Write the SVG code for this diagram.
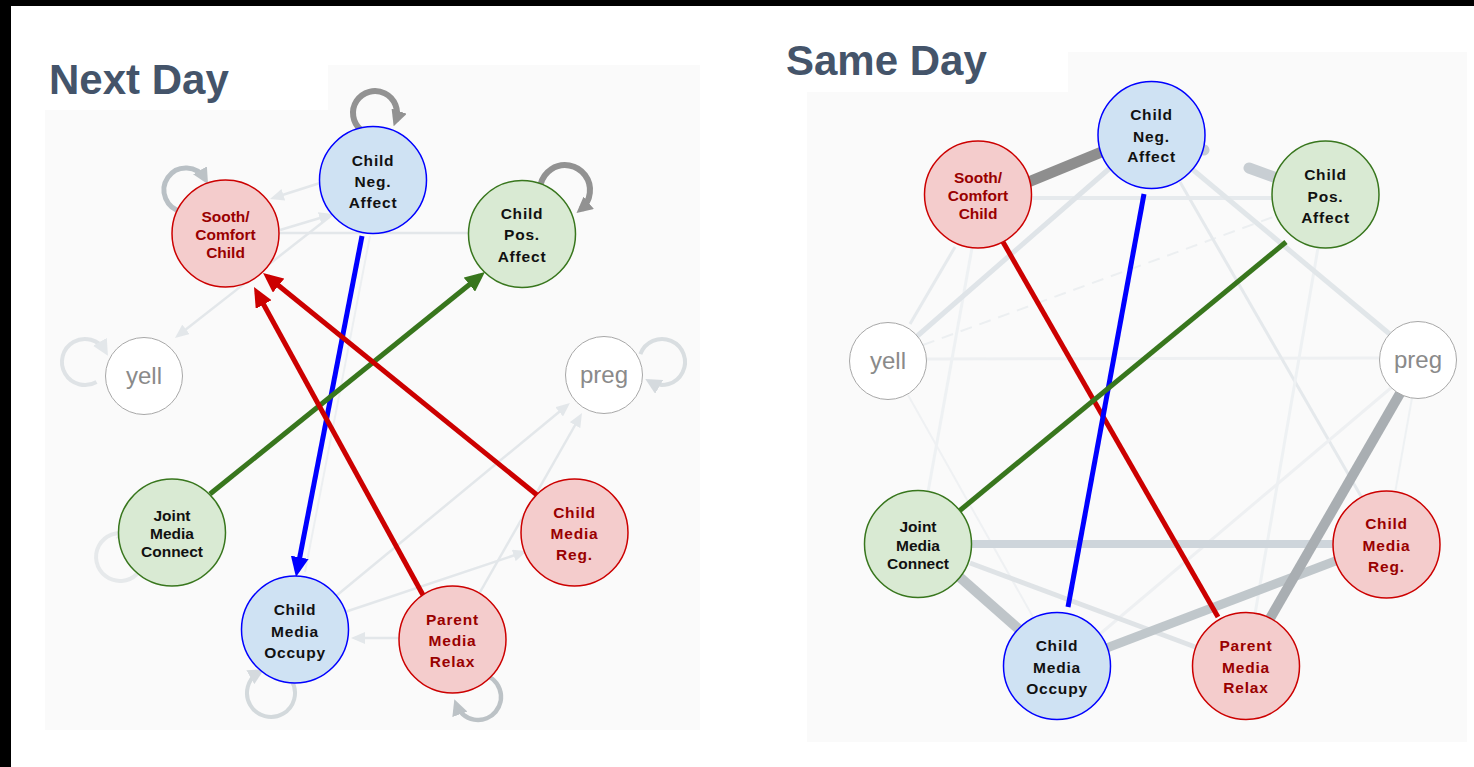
<svg xmlns="http://www.w3.org/2000/svg" width="1474" height="767" viewBox="0 0 1474 767">
<defs>
<style>
.title{font-family:"Liberation Sans",Arial,sans-serif;font-weight:bold;font-size:42px;fill:#44546a}
.lbl{font-family:"Liberation Sans",Arial,sans-serif;font-weight:bold;font-size:15.5px;text-anchor:middle;letter-spacing:0.8px;fill:#111}
.tight{letter-spacing:0}
.rt{fill:#990000}
.gl{font-family:"Liberation Sans",Arial,sans-serif;font-size:24px;text-anchor:middle;fill:#8a8a8a}
.nr{fill:#f4cccc;stroke:#cc0000;stroke-width:1.5}
.nb{fill:#cfe2f3;stroke:#0000ff;stroke-width:1.5}
.ng{fill:#d9ead3;stroke:#38761d;stroke-width:1.5}
.nw{fill:#ffffff;stroke:#a8a8a8;stroke-width:1}
.e{fill:none;stroke-linecap:butt}
.faint{stroke:#e3e7ea;stroke-width:2.5;fill:none}
.loop{fill:none}
</style>
<marker id="mBlue" markerUnits="userSpaceOnUse" markerWidth="20" markerHeight="18" refX="14" refY="9" orient="auto"><path d="M0,0 L20,9 L0,18 Z" fill="#0000ff"/></marker>
<marker id="mGreen" markerUnits="userSpaceOnUse" markerWidth="20" markerHeight="18" refX="14" refY="9" orient="auto"><path d="M0,0 L20,9 L0,18 Z" fill="#38761d"/></marker>
<marker id="mRed" markerUnits="userSpaceOnUse" markerWidth="20" markerHeight="18" refX="14" refY="9" orient="auto"><path d="M0,0 L20,9 L0,18 Z" fill="#cc0000"/></marker>
<marker id="mFaint" markerUnits="userSpaceOnUse" markerWidth="14" markerHeight="12" refX="10" refY="6" orient="auto"><path d="M0,0 L14,6 L0,12 Z" fill="#e3e7ea"/></marker>
<marker id="mL1" markerUnits="userSpaceOnUse" markerWidth="16" markerHeight="16" refX="10" refY="8" orient="auto"><path d="M0,0 L16,8 L0,16 Z" fill="#929292"/></marker>
<marker id="mL2" markerUnits="userSpaceOnUse" markerWidth="16" markerHeight="16" refX="10" refY="8" orient="auto"><path d="M0,0 L16,8 L0,16 Z" fill="#bcc2c6"/></marker>
<marker id="mL3" markerUnits="userSpaceOnUse" markerWidth="16" markerHeight="16" refX="10" refY="8" orient="auto"><path d="M0,0 L16,8 L0,16 Z" fill="#d5dade"/></marker>
<marker id="mL4" markerUnits="userSpaceOnUse" markerWidth="16" markerHeight="16" refX="10" refY="8" orient="auto"><path d="M0,0 L16,8 L0,16 Z" fill="#e3e7ea"/></marker>
</defs>

<rect x="0" y="0" width="1474" height="767" fill="#ffffff"/>
<rect x="0" y="0" width="1474" height="6" fill="#000000"/>
<rect x="0" y="0" width="11" height="767" fill="#000000"/>

<!-- panels -->
<rect x="45" y="110" width="655" height="620" fill="#fafafa"/>
<rect x="328" y="65" width="372" height="45" fill="#fafafa"/>
<rect x="807" y="92" width="660" height="650" fill="#fafafa"/>
<rect x="1068" y="52" width="399" height="40" fill="#fafafa"/>

<text class="title" x="49" y="94">Next Day</text>
<text class="title" x="786" y="75">Same Day</text>

<g id="connectors">
  <!-- Next Day faint edges -->
  <line class="faint" x1="279" y1="233" x2="468" y2="233" stroke="#eceff1"/>
  <line class="faint" x1="370" y1="236" x2="305" y2="572" style="stroke:#eceff1;stroke-width:2"/>
  <line class="faint" x1="332" y1="215" x2="178.1" y2="335.5" marker-end="url(#mFaint)"/>
  <line class="faint" x1="320" y1="183" x2="273.8" y2="197.8" marker-end="url(#mFaint)"/>
  <line class="faint" x1="280" y1="230" x2="329.2" y2="215.2" marker-end="url(#mFaint)"/>
  <line class="faint" x1="336" y1="596" x2="566.9" y2="405.5" marker-end="url(#mFaint)"/>
  <line class="faint" x1="479" y1="594" x2="580" y2="416.5" marker-end="url(#mFaint)"/>
  <line class="faint" x1="345" y1="612" x2="523.2" y2="552.3" marker-end="url(#mFaint)"/>
  <line class="faint" x1="399" y1="638" x2="355" y2="638" marker-end="url(#mFaint)"/>

  <!-- Next Day self-loops -->
  <path class="loop" d="M360.9,129.9 A22,22 0 1 1 395.7,120.5" stroke="#929292" stroke-width="6" marker-end="url(#mL1)"/>
  <path class="loop" d="M543.3,202.5 A25,25 0 1 1 581.1,209.2" stroke="#929292" stroke-width="6" marker-end="url(#mL1)"/>
  <path class="loop" d="M182.2,211.7 A22,22 0 1 1 205,179" stroke="#b9c0c5" stroke-width="5" marker-end="url(#mL2)"/>
  <path class="loop" d="M482,674.3 A23,23 0 1 1 456.4,704.9" stroke="#bcc2c6" stroke-width="4.5" marker-end="url(#mL2)"/>
  <path class="loop" d="M291.8,681 A24,24 0 1 1 259,672.2" stroke="#d3d9dc" stroke-width="4" marker-end="url(#mL3)"/>
  <path class="loop" d="M640.4,354.1 A23,23 0 1 1 650.5,381.9" stroke="#d9dee1" stroke-width="4" marker-end="url(#mL3)"/>
  <path class="loop" d="M96.5,381.9 A23,23 0 1 1 104.9,350.5" stroke="#dfe3e6" stroke-width="4" marker-end="url(#mL4)"/>
  <path class="loop" d="M137,574 A24,24 0 1 1 128.2,534.4" stroke="#e6e9eb" stroke-width="4" marker-end="url(#mL4)"/>

  <!-- Next Day strong edges -->
  <line class="e" x1="362" y1="236" x2="297.1" y2="571.1" stroke="#0000ff" stroke-width="5" marker-end="url(#mBlue)"/>
  <line class="e" x1="210" y1="494" x2="480.3" y2="275.8" stroke="#38761d" stroke-width="5" marker-end="url(#mGreen)"/>
  <line class="e" x1="537" y1="495" x2="267.7" y2="276.8" stroke="#cc0000" stroke-width="5" marker-end="url(#mRed)"/>
  <line class="e" x1="423" y1="595" x2="256.9" y2="292.3" stroke="#cc0000" stroke-width="5" marker-end="url(#mRed)"/>

  <!-- Same Day edges -->
  <line class="e" x1="1030" y1="198" x2="1275" y2="198" stroke="#e6eaed" stroke-width="4"/>
  <line class="e" x1="925" y1="359" x2="1380" y2="358" stroke="#eef0f2" stroke-width="3"/>
  <line class="e" x1="923" y1="345" x2="1273" y2="217" stroke="#eceff1" stroke-width="2" stroke-dasharray="12 8"/>
  <line class="e" x1="955" y1="247" x2="910" y2="324" stroke="#e6eaed" stroke-width="3"/>
  <line class="e" x1="972" y1="248" x2="928" y2="492" stroke="#eef1f3" stroke-width="3"/>
  <line class="e" x1="908" y1="395" x2="1033" y2="617" stroke="#eff1f3" stroke-width="2"/>
  <line class="e" x1="1180" y1="182" x2="1362" y2="498" stroke="#e5e9ec" stroke-width="3"/>
  <line class="e" x1="1318" y1="248" x2="1255" y2="614" stroke="#eef1f3" stroke-width="3"/>
  <line class="e" x1="1412" y1="398" x2="1395" y2="493" stroke="#eef1f3" stroke-width="2"/>
  <line class="e" x1="1392" y1="387" x2="1100" y2="634" stroke="#eef0f2" stroke-width="3"/>
  <line class="e" x1="915" y1="338" x2="1110" y2="168" stroke="#dfe4e8" stroke-width="5"/>
  <line class="e" x1="1192" y1="169" x2="1392" y2="336" stroke="#e1e6e9" stroke-width="5"/>
  <line class="e" x1="970" y1="563" x2="1198" y2="648" stroke="#dfe3e6" stroke-width="5"/>
  <line class="e" x1="968" y1="544" x2="1336" y2="544" stroke="#ced5db" stroke-width="8"/>
  <line class="e" x1="1104" y1="649" x2="1338" y2="560" stroke="#c0c7cb" stroke-width="9"/>
  <line class="e" x1="955" y1="573" x2="1022" y2="632" stroke="#bfc5c9" stroke-width="10"/>
  <line class="e" x1="1402" y1="390" x2="1268" y2="622" stroke="#a9aeb2" stroke-width="10"/>
  <line class="e" x1="1026" y1="183" x2="1104" y2="151" stroke="#8e8e8e" stroke-width="11"/>
  <line x1="1196" y1="147" x2="1204" y2="150" stroke="#c8ced3" stroke-width="11" stroke-linecap="round"/>
  <line x1="1249" y1="168" x2="1285" y2="181" stroke="#c8ced3" stroke-width="11" stroke-linecap="round"/>

  <line class="e" x1="1003" y1="242" x2="1218" y2="617" stroke="#cc0000" stroke-width="5"/>
  <line class="e" x1="1144" y1="194" x2="1068" y2="607" stroke="#0000ff" stroke-width="5"/>
  <line class="e" x1="1286" y1="242" x2="958" y2="512" stroke="#38761d" stroke-width="5"/>
</g>

<!-- Next Day nodes -->
<g id="nd-neg"><circle class="nb" cx="373" cy="180" r="53.5"/>
<text class="lbl" x="373" y="166">Child</text><text class="lbl" x="373" y="187">Neg.</text><text class="lbl" x="373" y="208">Affect</text></g>
<g id="nd-sooth"><circle class="nr" cx="225.5" cy="233.5" r="53.5"/>
<text class="lbl tight rt" x="225.5" y="222">Sooth/</text><text class="lbl tight rt" x="225.5" y="240">Comfort</text><text class="lbl tight rt" x="225.5" y="258">Child</text></g>
<g id="nd-pos"><circle class="ng" cx="522" cy="234" r="53.5"/>
<text class="lbl" x="522" y="219">Child</text><text class="lbl" x="522" y="240">Pos.</text><text class="lbl" x="522" y="262">Affect</text></g>
<g id="nd-yell"><circle class="nw" cx="144" cy="376" r="38.5"/><text class="gl" x="144" y="384">yell</text></g>
<g id="nd-preg"><circle class="nw" cx="604" cy="375" r="38.5"/><text class="gl" x="604" y="383">preg</text></g>
<g id="nd-joint"><circle class="ng" cx="172" cy="532.5" r="53.5"/>
<text class="lbl tight" x="172" y="521">Joint</text><text class="lbl tight" x="172" y="539">Media</text><text class="lbl tight" x="172" y="557">Connect</text></g>
<g id="nd-occupy"><circle class="nb" cx="295" cy="629.5" r="53.5"/>
<text class="lbl" x="295" y="615">Child</text><text class="lbl" x="295" y="637">Media</text><text class="lbl" x="295" y="658">Occupy</text></g>
<g id="nd-reg"><circle class="nr" cx="574.5" cy="532.5" r="53.5"/>
<text class="lbl rt" x="574.5" y="518">Child</text><text class="lbl rt" x="574.5" y="539">Media</text><text class="lbl rt" x="574.5" y="560">Reg.</text></g>
<g id="nd-relax"><circle class="nr" cx="452.5" cy="639.5" r="53.5"/>
<text class="lbl rt" x="452.5" y="625">Parent</text><text class="lbl rt" x="452.5" y="646">Media</text><text class="lbl rt" x="452.5" y="667">Relax</text></g>

<!-- Same Day nodes -->
<g id="sd-neg"><circle class="nb" cx="1151.5" cy="135" r="53.5"/>
<text class="lbl" x="1151.5" y="120">Child</text><text class="lbl" x="1151.5" y="142">Neg.</text><text class="lbl" x="1151.5" y="162">Affect</text></g>
<g id="sd-sooth"><circle class="nr" cx="978" cy="194.5" r="53.5"/>
<text class="lbl tight rt" x="978" y="183">Sooth/</text><text class="lbl tight rt" x="978" y="201">Comfort</text><text class="lbl tight rt" x="978" y="219">Child</text></g>
<g id="sd-pos"><circle class="ng" cx="1325.5" cy="194.5" r="53.5"/>
<text class="lbl" x="1325.5" y="180">Child</text><text class="lbl" x="1325.5" y="202">Pos.</text><text class="lbl" x="1325.5" y="223">Affect</text></g>
<g id="sd-yell"><circle class="nw" cx="888" cy="361" r="38.5"/><text class="gl" x="888" y="369">yell</text></g>
<g id="sd-preg"><circle class="nw" cx="1418" cy="360" r="38.5"/><text class="gl" x="1418" y="368">preg</text></g>
<g id="sd-joint"><circle class="ng" cx="918" cy="544" r="53.5"/>
<text class="lbl tight" x="918" y="532">Joint</text><text class="lbl tight" x="918" y="551">Media</text><text class="lbl tight" x="918" y="569">Connect</text></g>
<g id="sd-occupy"><circle class="nb" cx="1057" cy="666" r="53.5"/>
<text class="lbl" x="1057" y="651">Child</text><text class="lbl" x="1057" y="673">Media</text><text class="lbl" x="1057" y="694">Occupy</text></g>
<g id="sd-reg"><circle class="nr" cx="1386.5" cy="544.5" r="53.5"/>
<text class="lbl rt" x="1386.5" y="529">Child</text><text class="lbl rt" x="1386.5" y="551">Media</text><text class="lbl rt" x="1386.5" y="572">Reg.</text></g>
<g id="sd-relax"><circle class="nr" cx="1246" cy="666" r="53.5"/>
<text class="lbl rt" x="1246" y="651">Parent</text><text class="lbl rt" x="1246" y="673">Media</text><text class="lbl rt" x="1246" y="693">Relax</text></g>
</svg>
